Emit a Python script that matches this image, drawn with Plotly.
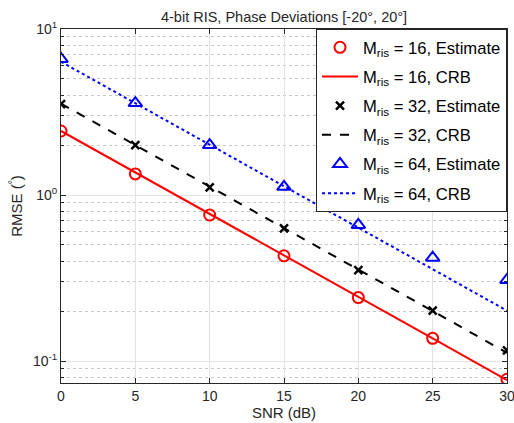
import plotly.graph_objects as go

snr = [0, 5, 10, 15, 20, 25, 30]
est16 = [2.43, 1.34, 0.758, 0.43, 0.241, 0.137, 0.0776]
crb16 = [2.43, 1.37, 0.768, 0.432, 0.243, 0.137, 0.0768]
est32 = [3.53, 2.0, 1.11, 0.63, 0.353, 0.201, 0.116]
crb32 = [3.55, 2.0, 1.12, 0.63, 0.355, 0.2, 0.112]
est64 = [6.6, 3.58, 2.0, 1.12, 0.66, 0.419, 0.308]
crb64 = [6.35, 3.57, 2.01, 1.13, 0.635, 0.357, 0.201]

xticks = [0, 5, 10, 15, 20, 25, 30]
yticks = [0.1, 1, 10]
yticktext = ["10<sup>-1</sup>", "10<sup>0</sup>", "10<sup>1</sup>"]
yminor = [0.08, 0.09, 0.2, 0.3, 0.4, 0.5, 0.6, 0.7, 0.8, 0.9,
          2, 3, 4, 5, 6, 7, 8, 9]

FONT = "Liberation Sans, Arial"
fig = go.Figure()
def lab(m, kind):
    return f"M<sub>ris</sub> = {m}, {kind}"

fig.add_trace(go.Scatter(x=snr, y=est16, mode="markers", name=lab(16, "Estimate"), legendgroup="a",
                         marker=dict(symbol="circle-open", size=11, color="#ff0000", line=dict(width=2))))
fig.add_trace(go.Scatter(x=snr, y=crb16, mode="lines", name=lab(16, "CRB"), legendgroup="b",
                         line=dict(color="#ff0000", width=2)))
fig.add_trace(go.Scatter(x=snr, y=est32, mode="markers", name=lab(32, "Estimate"), legendgroup="c",
                         marker=dict(symbol="x-thin-open", size=8, color="black", line=dict(width=2.5, color="black"))))
fig.add_trace(go.Scatter(x=snr, y=crb32, mode="lines", name=lab(32, "CRB"), legendgroup="d",
                         line=dict(color="black", width=2, dash="dash")))
fig.add_trace(go.Scatter(x=snr, y=est64, mode="markers", name=lab(64, "Estimate"), legendgroup="e",
                         marker=dict(symbol="triangle-up-open", size=12, color="#0000ff", line=dict(width=2))))
fig.add_trace(go.Scatter(x=snr, y=crb64, mode="lines", name=lab(64, "CRB"), legendgroup="f",
                         line=dict(color="#0000ff", width=2, dash="dot")))

axis_common = dict(showline=True, linecolor="#262626", linewidth=1, mirror="ticks",
                   ticks="inside", ticklen=5, tickcolor="#262626", automargin=False,
                   ticklabeloverflow="allow",
                   showgrid=True, gridcolor="#e3e3e3", gridwidth=1, zeroline=False,
                   tickfont=dict(family=FONT, size=14, color="#262626"))

fig.update_xaxes(range=[0, 30], tickvals=xticks, **axis_common,
                 title=dict(text="SNR (dB)", font=dict(family=FONT, size=15, color="#262626"), standoff=2))
fig.update_yaxes(type="log", range=[-1.1325, 1.0], tickvals=yticks, ticktext=yticktext, **axis_common,
                 minor=dict(tickvals=yminor, ticks="inside", ticklen=3, tickcolor="#262626", showgrid=True,
                            gridcolor="#c8c8c8", griddash="dot", gridwidth=1),
                 title=dict(text="RMSE (<sup>°</sup>)", font=dict(family=FONT, size=15, color="#262626"), standoff=6))

fig.update_layout(
    width=514, height=423,
    margin=dict(l=61, r=7, t=29, b=40),
    plot_bgcolor="white", paper_bgcolor="white",
    title=dict(text="4-bit RIS, Phase Deviations [-20°, 20°]", x=0.5526, xanchor="center", y=0.96, yanchor="middle",
               font=dict(family=FONT, size=14.5, color="#262626")),
    legend=dict(x=1, y=1, xanchor="right", yanchor="top", bgcolor="white", bordercolor="#262626", borderwidth=1,
                font=dict(family=FONT, size=16.6, color="black"), tracegroupgap=4.6, traceorder="grouped",
                itemwidth=36),
    showlegend=True,
)

fig.write_html("out.html", config={"displayModeBar": False},
               post_script="document.body.style.margin='0';")
